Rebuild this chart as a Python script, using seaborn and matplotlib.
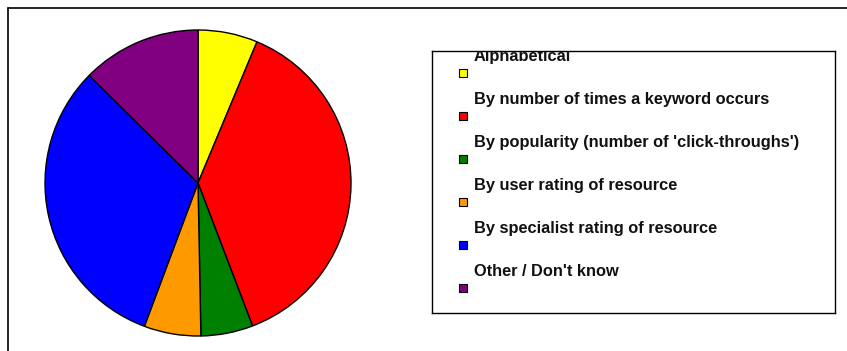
import matplotlib
matplotlib.use("Agg")
import matplotlib.pyplot as plt
import seaborn as sns
from matplotlib.patches import Rectangle
from matplotlib.lines import Line2D

categories = [
    "Alphabetical",
    "By number of times a keyword occurs",
    "By popularity (number of 'click-throughs')",
    "By user rating of resource",
    "By specialist rating of resource",
    "Other / Don't know",
]
values = [6.3, 37.9, 5.5, 6.0, 31.7, 12.6]
colors = ["#FFFF00", "#FF0000", "#008000", "#FF9900", "#0000FF", "#800080"]

sns.set_theme(style="white")
plt.rcParams["font.family"] = ["Liberation Sans", "DejaVu Sans"]

W, H = 847, 351
fig = plt.figure(figsize=(W / 100, H / 100), dpi=100)
fig.patch.set_facecolor("white")

def px_rect(x0, y0, x1, y1):
    return [x0 / W, 1 - y1 / H, (x1 - x0) / W, (y1 - y0) / H]

# pie
cx, cy, r = 198, 183, 153
ax = fig.add_axes(px_rect(cx - r, cy - r, cx + r, cy + r))
ax.pie(values, colors=colors, startangle=90, counterclock=False,
       wedgeprops=dict(edgecolor="black", linewidth=1.0))
ax.set_xlim(-1.0, 1.0)
ax.set_ylim(-1.0, 1.0)
ax.set_aspect("equal")
ax.axis("off")

# legend box
lx0, ly0, lx1, ly1 = 432, 51, 835, 313
lax = fig.add_axes(px_rect(lx0, ly0, lx1, ly1))
lax.set_xlim(lx0, lx1)
lax.set_ylim(ly1, ly0)
lax.set_xticks([])
lax.set_yticks([])
for s in lax.spines.values():
    s.set_color("black")
    s.set_linewidth(1.0)
for i, (cat, col) in enumerate(zip(categories, colors)):
    ty = 56.5 + 43.1 * i
    my = 72.5 + 43.1 * i
    lax.text(474, ty, cat, fontsize=11.8, fontweight="bold", color="#111111",
             va="center", ha="left", clip_on=True)
    lax.add_patch(Rectangle((458.5, my - 4), 8.5, 8, facecolor=col,
                            edgecolor="black", linewidth=0.8))

# outer frame (top and left only visible)
fig.add_artist(Line2D([8 / W, 1], [1 - 8 / H, 1 - 8 / H], color="black",
                      linewidth=1.2, transform=fig.transFigure))
fig.add_artist(Line2D([8 / W, 8 / W], [0, 1 - 8 / H], color="black",
                      linewidth=1.2, transform=fig.transFigure))

fig.savefig("out.png", dpi=100)
